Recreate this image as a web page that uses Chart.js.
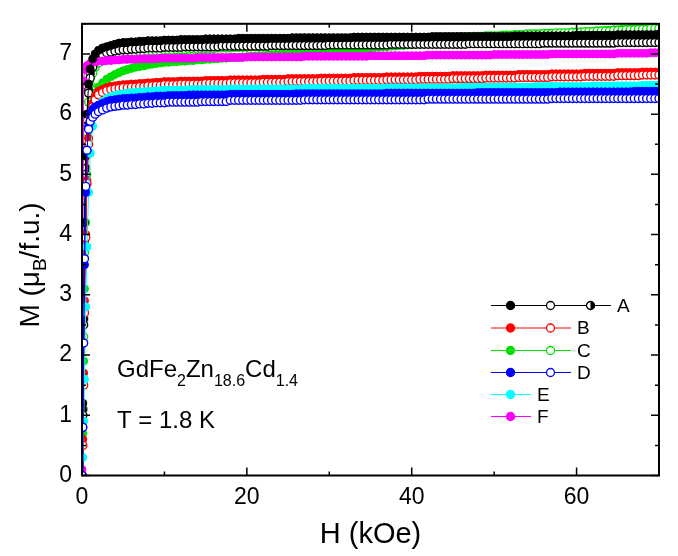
<!DOCTYPE html>
<html>
<head>
<meta charset="utf-8">
<script src="https://cdn.jsdelivr.net/npm/chart.js@4"></script>
<style>
  html, body { margin: 0; padding: 0; background: #fff; }
  #wrap { width: 678px; height: 556px; }
</style>
</head>
<body>
<div id="wrap"><canvas id="c" width="678" height="556"></canvas></div>
<script>
// Field values (kOe), shared by every curve
const H = [0, 0.1, 0.2, 0.3, 0.45, 0.6, 0.8, 1, 1.3, 1.6,
  2, 2.5, 3, 3.5, 4, 4.5,
  5, 5.5, 6, 6.5, 7, 7.5, 8, 8.5, 9, 9.5,
  10, 10.5, 11, 11.5, 12, 12.5, 13, 13.5, 14, 14.5,
  15, 15.5, 16, 16.5, 17, 17.5, 18, 18.5, 19, 19.5,
  20, 20.5, 21, 21.5, 22, 22.5, 23, 23.5, 24, 24.5,
  25, 25.5, 26, 26.5, 27, 27.5, 28, 28.5, 29, 29.5,
  30, 30.5, 31, 31.5, 32, 32.5, 33, 33.5, 34, 34.5,
  35, 35.5, 36, 36.5, 37, 37.5, 38, 38.5, 39, 39.5,
  40, 40.5, 41, 41.5, 42, 42.5, 43, 43.5, 44, 44.5,
  45, 45.5, 46, 46.5, 47, 47.5, 48, 48.5, 49, 49.5,
  50, 50.5, 51, 51.5, 52, 52.5, 53, 53.5, 54, 54.5,
  55, 55.5, 56, 56.5, 57, 57.5, 58, 58.5, 59, 59.5,
  60, 60.5, 61, 61.5, 62, 62.5, 63, 63.5, 64, 64.5,
  65, 65.5, 66, 66.5, 67, 67.5, 68, 68.5, 69, 69.5,
  70];

// Magnetization (muB/f.u.), one row per 5 kOe
const A1 = [0, 1.2, 2.8, 4.2, 5.3, 6.0, 6.5, 6.75, 6.92, 7.0,
  7.06, 7.10, 7.12, 7.14, 7.16, 7.18,
  7.19, 7.19, 7.20, 7.20, 7.21, 7.21, 7.22, 7.22, 7.22, 7.22,
  7.23, 7.23, 7.23, 7.23, 7.24, 7.24, 7.24, 7.24, 7.24, 7.24,
  7.25, 7.25, 7.25, 7.25, 7.25, 7.25, 7.25, 7.25, 7.26, 7.26,
  7.26, 7.26, 7.26, 7.26, 7.26, 7.26, 7.26, 7.26, 7.26, 7.26,
  7.26, 7.27, 7.27, 7.27, 7.27, 7.27, 7.27, 7.27, 7.27, 7.27,
  7.27, 7.27, 7.27, 7.27, 7.27, 7.27, 7.28, 7.28, 7.28, 7.28,
  7.28, 7.28, 7.28, 7.28, 7.28, 7.28, 7.28, 7.28, 7.28, 7.28,
  7.28, 7.28, 7.28, 7.28, 7.28, 7.29, 7.29, 7.29, 7.29, 7.29,
  7.29, 7.29, 7.29, 7.29, 7.29, 7.29, 7.29, 7.29, 7.29, 7.29,
  7.29, 7.29, 7.29, 7.29, 7.29, 7.30, 7.30, 7.30, 7.30, 7.30,
  7.30, 7.30, 7.30, 7.30, 7.30, 7.30, 7.30, 7.30, 7.30, 7.30,
  7.31, 7.31, 7.31, 7.31, 7.31, 7.31, 7.31, 7.31, 7.31, 7.31,
  7.32, 7.32, 7.32, 7.32, 7.32, 7.32, 7.32, 7.32, 7.32, 7.32,
  7.33];
const A2 = [0, 1.0, 2.5, 3.9, 5.0, 5.8, 6.35, 6.6, 6.78, 6.88,
  6.95, 6.99, 7.02, 7.03, 7.05, 7.06,
  7.07, 7.07, 7.08, 7.08, 7.09, 7.09, 7.10, 7.10, 7.10, 7.10,
  7.11, 7.11, 7.11, 7.11, 7.11, 7.12, 7.12, 7.12, 7.12, 7.12,
  7.12, 7.12, 7.12, 7.12, 7.13, 7.13, 7.13, 7.13, 7.13, 7.13,
  7.13, 7.13, 7.13, 7.13, 7.13, 7.13, 7.14, 7.14, 7.14, 7.14,
  7.14, 7.14, 7.14, 7.14, 7.14, 7.14, 7.14, 7.14, 7.14, 7.14,
  7.15, 7.15, 7.15, 7.15, 7.15, 7.15, 7.15, 7.15, 7.15, 7.15,
  7.15, 7.15, 7.15, 7.15, 7.15, 7.16, 7.16, 7.16, 7.16, 7.16,
  7.16, 7.16, 7.16, 7.16, 7.16, 7.16, 7.16, 7.16, 7.16, 7.16,
  7.16, 7.16, 7.16, 7.16, 7.17, 7.17, 7.17, 7.17, 7.17, 7.17,
  7.17, 7.17, 7.17, 7.17, 7.17, 7.17, 7.17, 7.17, 7.17, 7.17,
  7.17, 7.17, 7.18, 7.18, 7.18, 7.18, 7.18, 7.18, 7.18, 7.18,
  7.18, 7.18, 7.18, 7.18, 7.18, 7.18, 7.18, 7.18, 7.18, 7.18,
  7.19, 7.19, 7.19, 7.19, 7.19, 7.19, 7.19, 7.19, 7.19, 7.19,
  7.19];
const A3 = [0, 1.1, 2.6, 4.0, 5.1, 5.9, 6.4, 6.68, 6.85, 6.94,
  7.00, 7.04, 7.07, 7.09, 7.11, 7.13,
  7.14, 7.14, 7.15, 7.15, 7.16, 7.16, 7.17, 7.17, 7.17, 7.17,
  7.18, 7.18, 7.18, 7.18, 7.18, 7.18, 7.19, 7.19, 7.19, 7.19,
  7.19, 7.19, 7.19, 7.19, 7.19, 7.19, 7.20, 7.20, 7.20, 7.20,
  7.20, 7.20, 7.20, 7.20, 7.21, 7.21, 7.21, 7.21, 7.21, 7.21,
  7.21, 7.21, 7.21, 7.21, 7.21, 7.21, 7.21, 7.21, 7.21, 7.21,
  7.22, 7.22, 7.22, 7.22, 7.22, 7.22, 7.22, 7.22, 7.22, 7.22,
  7.22, 7.22, 7.22, 7.22, 7.23, 7.23, 7.23, 7.23, 7.23, 7.23,
  7.23, 7.23, 7.23, 7.23, 7.23, 7.23, 7.23, 7.23, 7.23, 7.23,
  7.24, 7.24, 7.24, 7.24, 7.24, 7.24, 7.24, 7.24, 7.24, 7.24,
  7.24, 7.24, 7.24, 7.24, 7.24, 7.24, 7.25, 7.25, 7.25, 7.25,
  7.25, 7.25, 7.25, 7.25, 7.25, 7.25, 7.25, 7.25, 7.25, 7.25,
  7.25, 7.25, 7.25, 7.25, 7.26, 7.26, 7.26, 7.26, 7.26, 7.26,
  7.26, 7.26, 7.26, 7.26, 7.26, 7.26, 7.27, 7.27, 7.27, 7.27,
  7.27];
const B1 = [0, 0.6, 1.7, 2.9, 4.0, 4.9, 5.6, 5.95, 6.18, 6.3,
  6.38, 6.41, 6.44, 6.46, 6.47, 6.48,
  6.49, 6.49, 6.50, 6.50, 6.51, 6.51, 6.52, 6.52, 6.53, 6.53,
  6.54, 6.54, 6.54, 6.54, 6.55, 6.55, 6.55, 6.55, 6.55, 6.55,
  6.56, 6.56, 6.56, 6.56, 6.56, 6.56, 6.57, 6.57, 6.57, 6.57,
  6.57, 6.57, 6.57, 6.57, 6.58, 6.58, 6.58, 6.58, 6.58, 6.58,
  6.59, 6.59, 6.59, 6.59, 6.59, 6.59, 6.59, 6.59, 6.60, 6.60,
  6.60, 6.60, 6.60, 6.60, 6.60, 6.60, 6.61, 6.61, 6.61, 6.61,
  6.61, 6.61, 6.61, 6.61, 6.62, 6.62, 6.62, 6.62, 6.62, 6.62,
  6.62, 6.62, 6.63, 6.63, 6.63, 6.63, 6.63, 6.63, 6.63, 6.63,
  6.64, 6.64, 6.64, 6.64, 6.64, 6.64, 6.64, 6.64, 6.65, 6.65,
  6.65, 6.65, 6.65, 6.65, 6.65, 6.65, 6.66, 6.66, 6.66, 6.66,
  6.66, 6.66, 6.66, 6.66, 6.67, 6.67, 6.67, 6.67, 6.67, 6.67,
  6.67, 6.67, 6.68, 6.68, 6.68, 6.68, 6.68, 6.68, 6.68, 6.68,
  6.69, 6.69, 6.69, 6.69, 6.69, 6.69, 6.70, 6.70, 6.70, 6.70,
  6.70];
const B2 = [0, 0.5, 1.5, 2.7, 3.95, 4.85, 5.5, 5.88, 6.12, 6.24,
  6.32, 6.36, 6.39, 6.41, 6.42, 6.43,
  6.44, 6.44, 6.45, 6.45, 6.46, 6.46, 6.47, 6.47, 6.48, 6.48,
  6.49, 6.49, 6.49, 6.49, 6.50, 6.50, 6.50, 6.50, 6.50, 6.50,
  6.51, 6.51, 6.51, 6.51, 6.51, 6.51, 6.52, 6.52, 6.52, 6.52,
  6.52, 6.52, 6.52, 6.52, 6.53, 6.53, 6.53, 6.53, 6.53, 6.53,
  6.54, 6.54, 6.54, 6.54, 6.54, 6.54, 6.54, 6.54, 6.55, 6.55,
  6.55, 6.55, 6.55, 6.55, 6.55, 6.55, 6.56, 6.56, 6.56, 6.56,
  6.56, 6.56, 6.56, 6.56, 6.57, 6.57, 6.57, 6.57, 6.57, 6.57,
  6.57, 6.57, 6.58, 6.58, 6.58, 6.58, 6.58, 6.58, 6.58, 6.58,
  6.59, 6.59, 6.59, 6.59, 6.59, 6.59, 6.59, 6.59, 6.60, 6.60,
  6.60, 6.60, 6.60, 6.60, 6.60, 6.60, 6.61, 6.61, 6.61, 6.61,
  6.61, 6.61, 6.61, 6.61, 6.62, 6.62, 6.62, 6.62, 6.62, 6.62,
  6.62, 6.62, 6.63, 6.63, 6.63, 6.63, 6.63, 6.63, 6.63, 6.63,
  6.64, 6.64, 6.64, 6.64, 6.64, 6.64, 6.65, 6.65, 6.65, 6.65,
  6.65];
const C1 = [0, 0.7, 1.9, 3.1, 4.2, 5.0, 5.6, 5.95, 6.2, 6.35,
  6.45, 6.52, 6.58, 6.62, 6.66, 6.69,
  6.72, 6.74, 6.76, 6.78, 6.79, 6.80, 6.82, 6.83, 6.84, 6.85,
  6.86, 6.86, 6.87, 6.87, 6.88, 6.88, 6.89, 6.89, 6.90, 6.90,
  6.91, 6.91, 6.92, 6.92, 6.93, 6.93, 6.94, 6.94, 6.94, 6.95,
  6.95, 6.96, 6.96, 6.97, 6.97, 6.98, 6.98, 6.99, 6.99, 7.00,
  7.00, 7.01, 7.01, 7.02, 7.02, 7.03, 7.03, 7.04, 7.04, 7.05,
  7.05, 7.06, 7.06, 7.07, 7.07, 7.08, 7.08, 7.09, 7.09, 7.10,
  7.10, 7.11, 7.11, 7.12, 7.12, 7.13, 7.13, 7.14, 7.14, 7.15,
  7.15, 7.16, 7.16, 7.17, 7.17, 7.18, 7.18, 7.19, 7.19, 7.20,
  7.20, 7.21, 7.21, 7.22, 7.22, 7.23, 7.23, 7.24, 7.24, 7.25,
  7.25, 7.26, 7.26, 7.27, 7.27, 7.28, 7.28, 7.29, 7.29, 7.30,
  7.30, 7.31, 7.31, 7.32, 7.32, 7.33, 7.33, 7.34, 7.34, 7.35,
  7.35, 7.36, 7.36, 7.37, 7.37, 7.38, 7.38, 7.39, 7.39, 7.40,
  7.40, 7.41, 7.41, 7.42, 7.42, 7.43, 7.43, 7.44, 7.44, 7.45,
  7.45];
const C2 = [0, 0.9, 2.3, 3.7, 4.9, 5.7, 6.2, 6.5, 6.68, 6.78,
  6.85, 6.89, 6.93, 6.95, 6.97, 6.99,
  7.00, 7.01, 7.02, 7.02, 7.03, 7.03, 7.04, 7.04, 7.05, 7.05,
  7.06, 7.06, 7.06, 7.07, 7.07, 7.07, 7.08, 7.08, 7.08, 7.09,
  7.09, 7.09, 7.09, 7.10, 7.10, 7.10, 7.10, 7.11, 7.11, 7.11,
  7.11, 7.12, 7.12, 7.12, 7.13, 7.13, 7.13, 7.14, 7.14, 7.14,
  7.15, 7.15, 7.15, 7.16, 7.16, 7.16, 7.17, 7.17, 7.17, 7.18,
  7.18, 7.18, 7.19, 7.19, 7.19, 7.20, 7.20, 7.20, 7.21, 7.21,
  7.21, 7.21, 7.22, 7.22, 7.22, 7.23, 7.23, 7.23, 7.24, 7.24,
  7.24, 7.24, 7.25, 7.25, 7.25, 7.26, 7.26, 7.26, 7.27, 7.27,
  7.27, 7.27, 7.28, 7.28, 7.28, 7.29, 7.29, 7.29, 7.30, 7.30,
  7.30, 7.30, 7.31, 7.31, 7.31, 7.32, 7.32, 7.32, 7.33, 7.33,
  7.33, 7.33, 7.34, 7.34, 7.34, 7.35, 7.35, 7.35, 7.35, 7.36,
  7.36, 7.36, 7.37, 7.37, 7.37, 7.38, 7.38, 7.38, 7.38, 7.39,
  7.39, 7.39, 7.40, 7.40, 7.40, 7.41, 7.41, 7.41, 7.42, 7.42,
  7.42];
const D1 = [0, 0.8, 2.2, 3.5, 4.7, 5.4, 5.8, 6.0, 6.08, 6.12,
  6.15, 6.18, 6.21, 6.23, 6.24, 6.25,
  6.26, 6.26, 6.27, 6.27, 6.28, 6.28, 6.29, 6.29, 6.30, 6.30,
  6.30, 6.31, 6.31, 6.31, 6.31, 6.31, 6.32, 6.32, 6.32, 6.32,
  6.32, 6.32, 6.32, 6.32, 6.32, 6.32, 6.33, 6.33, 6.33, 6.33,
  6.33, 6.33, 6.33, 6.33, 6.33, 6.33, 6.33, 6.33, 6.33, 6.33,
  6.33, 6.33, 6.34, 6.34, 6.34, 6.34, 6.34, 6.34, 6.34, 6.34,
  6.34, 6.34, 6.34, 6.34, 6.34, 6.34, 6.34, 6.34, 6.34, 6.34,
  6.34, 6.34, 6.34, 6.34, 6.35, 6.35, 6.35, 6.35, 6.35, 6.35,
  6.35, 6.35, 6.35, 6.35, 6.35, 6.35, 6.35, 6.35, 6.35, 6.35,
  6.35, 6.35, 6.35, 6.35, 6.35, 6.35, 6.36, 6.36, 6.36, 6.36,
  6.36, 6.36, 6.36, 6.36, 6.36, 6.36, 6.36, 6.36, 6.36, 6.36,
  6.36, 6.36, 6.36, 6.36, 6.36, 6.36, 6.37, 6.37, 6.37, 6.37,
  6.37, 6.37, 6.37, 6.37, 6.37, 6.37, 6.37, 6.37, 6.37, 6.37,
  6.37, 6.37, 6.37, 6.37, 6.38, 6.38, 6.38, 6.38, 6.38, 6.38,
  6.38];
const D2 = [0, 0.8, 2.2, 3.6, 4.8, 5.4, 5.75, 5.88, 5.95, 6.0,
  6.04, 6.07, 6.10, 6.12, 6.13, 6.14,
  6.15, 6.15, 6.16, 6.16, 6.17, 6.17, 6.18, 6.18, 6.19, 6.19,
  6.19, 6.20, 6.20, 6.20, 6.20, 6.20, 6.20, 6.20, 6.20, 6.21,
  6.21, 6.21, 6.21, 6.21, 6.21, 6.21, 6.23, 6.23, 6.23, 6.23,
  6.23, 6.23, 6.23, 6.23, 6.23, 6.23, 6.23, 6.23, 6.23, 6.23,
  6.23, 6.23, 6.23, 6.23, 6.24, 6.24, 6.24, 6.24, 6.24, 6.24,
  6.24, 6.24, 6.24, 6.24, 6.24, 6.24, 6.24, 6.24, 6.24, 6.24,
  6.24, 6.24, 6.24, 6.24, 6.24, 6.24, 6.24, 6.24, 6.24, 6.24,
  6.24, 6.24, 6.24, 6.24, 6.25, 6.25, 6.25, 6.25, 6.25, 6.25,
  6.25, 6.25, 6.25, 6.25, 6.25, 6.25, 6.25, 6.25, 6.25, 6.25,
  6.25, 6.25, 6.25, 6.25, 6.25, 6.25, 6.25, 6.25, 6.25, 6.25,
  6.25, 6.25, 6.25, 6.25, 6.26, 6.26, 6.26, 6.26, 6.26, 6.26,
  6.26, 6.26, 6.26, 6.26, 6.26, 6.26, 6.26, 6.26, 6.26, 6.26,
  6.26, 6.26, 6.26, 6.26, 6.26, 6.26, 6.26, 6.26, 6.26, 6.26,
  6.26];
const E1 = [0, 0.3, 0.9, 1.6, 2.8, 3.8, 4.7, 5.35, 5.8, 6.02,
  6.14, 6.21, 6.26, 6.29, 6.31, 6.33,
  6.34, 6.35, 6.36, 6.36, 6.37, 6.37, 6.38, 6.38, 6.39, 6.39,
  6.40, 6.40, 6.40, 6.40, 6.40, 6.40, 6.41, 6.41, 6.41, 6.41,
  6.41, 6.41, 6.41, 6.41, 6.41, 6.41, 6.42, 6.42, 6.42, 6.42,
  6.42, 6.42, 6.42, 6.42, 6.42, 6.42, 6.42, 6.42, 6.42, 6.42,
  6.42, 6.42, 6.42, 6.42, 6.43, 6.43, 6.43, 6.43, 6.43, 6.43,
  6.43, 6.43, 6.43, 6.43, 6.43, 6.43, 6.43, 6.43, 6.43, 6.43,
  6.43, 6.43, 6.43, 6.43, 6.44, 6.44, 6.44, 6.44, 6.44, 6.44,
  6.44, 6.44, 6.44, 6.44, 6.44, 6.44, 6.44, 6.44, 6.44, 6.44,
  6.44, 6.44, 6.45, 6.45, 6.45, 6.45, 6.45, 6.45, 6.45, 6.45,
  6.45, 6.45, 6.45, 6.45, 6.45, 6.45, 6.45, 6.45, 6.45, 6.45,
  6.46, 6.46, 6.46, 6.46, 6.46, 6.46, 6.46, 6.46, 6.46, 6.46,
  6.46, 6.46, 6.46, 6.46, 6.47, 6.47, 6.47, 6.47, 6.47, 6.47,
  6.47, 6.47, 6.47, 6.47, 6.47, 6.47, 6.48, 6.48, 6.48, 6.48,
  6.48];
const F1 = [0.1, 2.8, 6.55, 6.74, 6.78, 6.8, 6.82, 6.84, 6.86, 6.87,
  6.88, 6.88, 6.89, 6.89, 6.90, 6.90,
  6.91, 6.91, 6.91, 6.91, 6.92, 6.92, 6.92, 6.92, 6.92, 6.93,
  6.93, 6.93, 6.93, 6.93, 6.93, 6.93, 6.93, 6.93, 6.94, 6.94,
  6.94, 6.94, 6.94, 6.94, 6.94, 6.94, 6.94, 6.94, 6.94, 6.94,
  6.95, 6.95, 6.95, 6.95, 6.95, 6.95, 6.95, 6.95, 6.95, 6.95,
  6.95, 6.95, 6.95, 6.95, 6.96, 6.96, 6.96, 6.96, 6.96, 6.96,
  6.96, 6.96, 6.96, 6.96, 6.96, 6.96, 6.96, 6.96, 6.96, 6.96,
  6.97, 6.97, 6.97, 6.97, 6.97, 6.97, 6.97, 6.97, 6.97, 6.97,
  6.97, 6.97, 6.97, 6.97, 6.98, 6.98, 6.98, 6.98, 6.98, 6.98,
  6.98, 6.98, 6.98, 6.98, 6.98, 6.98, 6.98, 6.98, 6.98, 6.98,
  6.99, 6.99, 6.99, 6.99, 6.99, 6.99, 6.99, 6.99, 6.99, 6.99,
  6.99, 6.99, 6.99, 6.99, 7.00, 7.00, 7.00, 7.00, 7.00, 7.00,
  7.00, 7.00, 7.00, 7.00, 7.00, 7.00, 7.00, 7.00, 7.00, 7.00,
  7.01, 7.01, 7.01, 7.01, 7.01, 7.01, 7.01, 7.01, 7.02, 7.02,
  7.02];

const xTicks = [0, 20, 40, 60];
const yTicks = [0, 1, 2, 3, 4, 5, 6, 7];

const BLACK = "#000000", RED = "#ff0000", GREEN = "#00e000",
      BLUE = "#0000ff", CYAN = "#00ffff", MAGENTA = "#ff00ff";
const FONT = "'Liberation Sans', Arial, sans-serif";

// Half filled marker for the third A curve
function halfDot(color, r) {
  const c = document.createElement("canvas");
  const s = Math.ceil(r * 2 + 3);
  c.width = s; c.height = s;
  const g = c.getContext("2d");
  const m = s / 2;
  g.beginPath(); g.arc(m, m, r, 0, Math.PI * 2); g.fillStyle = "#fff"; g.fill();
  g.beginPath(); g.moveTo(m, m - r); g.arc(m, m, r, -Math.PI / 2, Math.PI / 2); g.closePath();
  g.fillStyle = color; g.fill();
  g.beginPath(); g.arc(m, m, r, 0, Math.PI * 2); g.lineWidth = 1.3; g.strokeStyle = color; g.stroke();
  return c;
}
const halfMarker = halfDot(BLACK, 4);

function makeSet(values, color, kind, order) {
  return {
    data: H.map((h, i) => ({ x: h, y: values[i] })),
    showLine: true,
    borderColor: color,
    borderWidth: 1,
    pointRadius: 4,
    pointBorderWidth: kind === "open" ? 1.4 : 1,
    pointBorderColor: color,
    pointBackgroundColor: kind === "open" ? "#ffffff" : color,
    pointStyle: kind === "half" ? halfMarker : "circle",
    order: order
  };
}

// Inner ticks, frame, legend and annotations
const decorPlugin = {
  id: "decor",
  afterDraw(chart) {
    const ctx = chart.ctx;
    const a = chart.chartArea;
    const xs = chart.scales.x, ys = chart.scales.y;
    ctx.save();
    ctx.strokeStyle = "#000";
    ctx.lineWidth = 1.5;
    ctx.beginPath();
    for (let v = 0; v <= 70; v += 10) {
      const px = xs.getPixelForValue(v);
      const len = v % 20 === 0 ? 8 : 4;
      ctx.moveTo(px, a.bottom); ctx.lineTo(px, a.bottom - len);
      ctx.moveTo(px, a.top); ctx.lineTo(px, a.top + len);
    }
    for (let v = 0; v <= 7.5; v += 0.5) {
      const py = ys.getPixelForValue(v);
      const len = v % 1 === 0 ? 8 : 4;
      ctx.moveTo(a.left, py); ctx.lineTo(a.left + len, py);
      ctx.moveTo(a.right, py); ctx.lineTo(a.right - len, py);
    }
    ctx.stroke();
    ctx.lineWidth = 2;
    ctx.strokeRect(a.left, a.top, a.right - a.left, a.bottom - a.top);

    // legend
    const rows = [
      { t: "A", c: BLACK, kinds: ["filled", "open", "half"], y: 305.5 },
      { t: "B", c: RED, kinds: ["filled", "open"], y: 328 },
      { t: "C", c: GREEN, kinds: ["filled", "open"], y: 350.5 },
      { t: "D", c: BLUE, kinds: ["filled", "open"], y: 372.5 },
      { t: "E", c: CYAN, kinds: ["filled"], y: 394.5 },
      { t: "F", c: MAGENTA, kinds: ["filled"], y: 416.5 }
    ];
    ctx.font = "19px " + FONT;
    ctx.textBaseline = "middle";
    ctx.textAlign = "left";
    rows.forEach(r => {
      const x0 = 491, x1 = 491 + 40 * r.kinds.length;
      ctx.strokeStyle = r.c; ctx.lineWidth = 1;
      ctx.beginPath(); ctx.moveTo(x0, r.y); ctx.lineTo(x1, r.y); ctx.stroke();
      r.kinds.forEach((k, i) => {
        const mx = 510.5 + 40 * i;
        if (k === "half") { ctx.drawImage(halfMarker, mx - halfMarker.width / 2, r.y - halfMarker.height / 2); return; }
        ctx.beginPath(); ctx.arc(mx, r.y, 4, 0, Math.PI * 2);
        ctx.fillStyle = k === "open" ? "#fff" : r.c; ctx.fill();
        ctx.lineWidth = 1.3; ctx.strokeStyle = r.c; ctx.stroke();
      });
      ctx.fillStyle = "#000";
      ctx.fillText(r.t, x1 + 6, r.y + 1);
    });

    // sample formula with subscripts
    ctx.textBaseline = "alphabetic";
    const parts = [["GdFe", 0], ["2", 1], ["Zn", 0], ["18.6", 1], ["Cd", 0], ["1.4", 1]];
    let x = 117;
    parts.forEach(p => {
      ctx.font = (p[1] ? "16px " : "24px ") + FONT;
      ctx.fillText(p[0], x, p[1] ? 386 : 377);
      x += ctx.measureText(p[0]).width;
    });
    ctx.font = "24px " + FONT;
    ctx.fillText("T = 1.8 K", 117, 428);

    // y axis title
    ctx.save();
    ctx.translate(39, 265);
    ctx.rotate(-Math.PI / 2);
    const yp = [["M (\u03bc", 0], ["B", 1], ["/f.u.)", 0]];
    let w = 0;
    yp.forEach(p => { ctx.font = (p[1] ? "19px " : "28px ") + FONT; w += ctx.measureText(p[0]).width; });
    let tx = -w / 2;
    yp.forEach(p => {
      ctx.font = (p[1] ? "19px " : "28px ") + FONT;
      ctx.fillText(p[0], tx, p[1] ? 7 : 0);
      tx += ctx.measureText(p[0]).width;
    });
    ctx.restore();
    ctx.restore();
  }
};

// lower order is drawn on top
const datasets = [
  makeSet(D2, BLUE, "open", 1),
  makeSet(D1, BLUE, "filled", 2),
  makeSet(E1, CYAN, "filled", 3),
  makeSet(B2, RED, "open", 4),
  makeSet(B1, RED, "filled", 5),
  makeSet(A1, BLACK, "filled", 6),
  makeSet(F1, MAGENTA, "filled", 7),
  makeSet(A2, BLACK, "open", 8),
  makeSet(A3, BLACK, "half", 9),
  makeSet(C2, GREEN, "open", 10),
  makeSet(C1, GREEN, "filled", 11)
];

new Chart(document.getElementById("c"), {
  type: "scatter",
  data: { datasets: datasets },
  options: {
    responsive: false,
    animation: false,
    devicePixelRatio: 1,
    layout: { padding: { top: 11, right: 19, left: 0, bottom: 0 } },
    plugins: { legend: { display: false }, tooltip: { enabled: false } },
    scales: {
      x: {
        type: "linear", min: 0, max: 70,
        grid: { display: false, drawTicks: false },
        border: { display: false },
        afterBuildTicks: s => { s.ticks = xTicks.map(v => ({ value: v })); },
        afterFit: s => { s.height = 80.5; },
        ticks: { autoSkip: false, maxRotation: 0, padding: 8, color: "#000", font: { family: FONT, size: 23 } },
        title: { display: true, text: "H (kOe)", color: "#000", font: { family: FONT, size: 29 }, padding: { top: 14 } }
      },
      y: {
        type: "linear", min: 0, max: 7.5,
        grid: { display: false, drawTicks: false },
        border: { display: false },
        afterBuildTicks: s => { s.ticks = yTicks.map(v => ({ value: v })); },
        afterFit: s => { s.width = 82; },
        ticks: { autoSkip: false, padding: 10, color: "#000", font: { family: FONT, size: 23 } }
      }
    }
  },
  plugins: [decorPlugin]
});
</script>
</body>
</html>
